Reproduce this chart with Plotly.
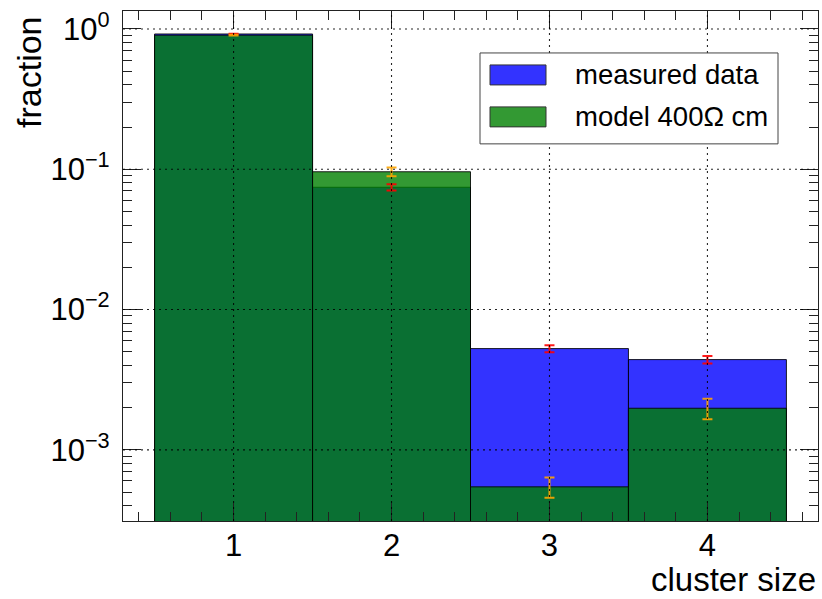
import plotly.graph_objects as go

# Cluster-size distribution: measured data vs. model (400 Ohm cm)
cluster_size = [1, 2, 3, 4]
measured = [0.921, 0.0744, 0.00527, 0.0044]
measured_err = [0.005, 0.0039, 0.0003, 0.00027]
model = [0.903, 0.096, 0.000545, 0.00198]
model_err = [0.006, 0.007, 0.00009, 0.00033]

y_ticks = [1e-3, 1e-2, 1e-1, 1]
y_ticktext = ["10<sup>−3</sup>", "10<sup>−2</sup>", "10<sup>−1</sup>", "10<sup>0</sup>"]
x_ticks = [1, 2, 3, 4]

FONT = "Liberation Sans"
W, H = 822, 599
ML, MR, MT, MB = 123, 4, 11, 77.5
PW, PH = W - ML - MR, H - MT - MB


def px(x):
    return (x - ML) / PW


def py(y):
    return 1 - (y - MT) / PH


fig = go.Figure()

fig.add_trace(go.Bar(
    x=cluster_size, y=measured, width=1,
    marker=dict(color="rgba(0,0,255,0.8)", line=dict(color="rgba(0,0,0,0.85)", width=1)),
    name="measured data", showlegend=False,
))
fig.add_trace(go.Bar(
    x=cluster_size, y=model, width=1,
    marker=dict(color="rgba(0,128,0,0.8)", line=dict(color="rgba(0,0,0,0.85)", width=1)),
    name="model 400Ω cm", showlegend=False,
))

# error bars drawn above both bar sets
fig.add_trace(go.Scatter(
    x=cluster_size, y=measured, mode="markers",
    marker=dict(size=1, opacity=0),
    error_y=dict(type="data", array=measured_err, color="rgba(255,0,0,0.9)", thickness=2, width=5),
    showlegend=False, hoverinfo="skip",
))
fig.add_trace(go.Scatter(
    x=cluster_size, y=model, mode="markers",
    marker=dict(size=1, opacity=0),
    error_y=dict(type="data", array=model_err, color="rgba(255,165,0,0.9)", thickness=2, width=5),
    showlegend=False, hoverinfo="skip",
))

shapes = []
# dotted grid on top of the bars
for xv in x_ticks:
    shapes.append(dict(type="line", xref="x", yref="paper", x0=xv, x1=xv, y0=0, y1=1,
                       line=dict(color="rgba(0,0,0,0.85)", width=1.1, dash="2px,4px"), layer="above"))
for yv in y_ticks:
    shapes.append(dict(type="line", xref="paper", yref="y", x0=0, x1=1, y0=yv, y1=yv,
                       line=dict(color="rgba(0,0,0,0.85)", width=1.1, dash="2px,4px"), layer="above"))

# legend box and patches
shapes.append(dict(type="rect", xref="paper", yref="paper",
                   x0=px(480), x1=px(778), y0=py(144), y1=py(53),
                   line=dict(color="#444", width=1), fillcolor="white", layer="above"))
shapes.append(dict(type="rect", xref="paper", yref="paper",
                   x0=px(490), x1=px(546), y0=py(85), y1=py(65),
                   line=dict(color="#333", width=1), fillcolor="#3333ff", layer="above"))
shapes.append(dict(type="rect", xref="paper", yref="paper",
                   x0=px(490), x1=px(546), y0=py(127), y1=py(107),
                   line=dict(color="#333", width=1), fillcolor="#339933", layer="above"))

annotations = [
    dict(text="measured data", xref="paper", yref="paper", x=px(573), y=py(75),
         xanchor="left", yanchor="middle", showarrow=False,
         font=dict(family=FONT, size=27.5, color="black")),
    dict(text="model 400Ω cm", xref="paper", yref="paper", x=px(573), y=py(117),
         xanchor="left", yanchor="middle", showarrow=False,
         font=dict(family=FONT, size=27.5, color="black")),
    dict(text="fraction", xref="paper", yref="paper", x=px(29), y=py(14),
         xanchor="center", yanchor="top", textangle=-90, showarrow=False,
         font=dict(family=FONT, size=34, color="black")),
    dict(text="cluster size", xref="paper", yref="paper", x=1.0, y=py(580),
         xanchor="right", yanchor="middle", showarrow=False,
         font=dict(family=FONT, size=33, color="black")),
]

minor_y = [m * 10.0 ** e for e in range(-4, 1) for m in range(2, 10)]
minor_x = [round(0.2 * i, 1) for i in range(1, 25) if (i % 5) != 0]

axis_common = dict(
    showline=True, linecolor="#222", linewidth=1.3, mirror="allticks",
    ticks="inside", ticklen=18, tickwidth=1.3, tickcolor="#222",
    showgrid=False, zeroline=False,
    tickfont=dict(family=FONT, size=31, color="black"),
)

fig.update_layout(
    width=W, height=H,
    margin=dict(l=ML, r=MR, t=MT, b=MB),
    paper_bgcolor="white", plot_bgcolor="white",
    barmode="overlay",
    shapes=shapes, annotations=annotations,
    xaxis=dict(
        range=[0.3, 4.7], tickmode="array", tickvals=x_ticks,
        ticktext=[str(v) for v in x_ticks], ticklabelstandoff=-3,
        minor=dict(ticks="inside", ticklen=9, tickwidth=1.3, tickcolor="#222",
                   tickvals=minor_x, showgrid=False),
        **axis_common,
    ),
    yaxis=dict(
        type="log", range=[-3.507, 0.128], tickmode="array",
        tickvals=y_ticks, ticktext=y_ticktext, ticklabelstandoff=6,
        minor=dict(ticks="inside", ticklen=9, tickwidth=1.3, tickcolor="#222",
                   tickvals=minor_y, showgrid=False),
        **axis_common,
    ),
)

fig.write_html("out.html")
